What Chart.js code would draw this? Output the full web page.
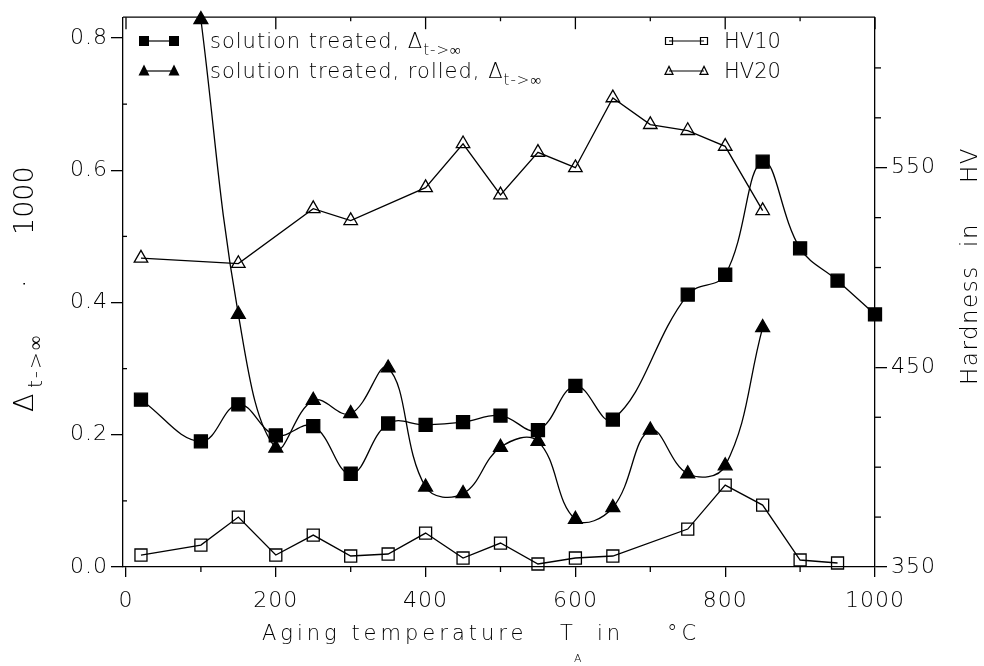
<!DOCTYPE html>
<html>
<head>
<meta charset="utf-8">
<script src="https://cdn.jsdelivr.net/npm/chart.js@4/dist/chart.umd.min.js"></script>
<style>
  html, body { margin: 0; padding: 0; background: #fff; }
  #wrap { width: 984px; height: 666px; position: relative; }
</style>
</head>
<body>
<div id="wrap"><canvas id="chart"></canvas></div>
<script>
// aging temperature (°C) for each series
const tempSolution = [20, 100, 150, 200, 250, 300, 350, 400, 450, 500, 550, 600, 650, 750, 800, 850, 900, 950, 1000];
const deltaSolution = [0.253, 0.19, 0.246, 0.199, 0.213, 0.141, 0.217, 0.215, 0.219, 0.229, 0.207, 0.274, 0.223, 0.412, 0.442, 0.613, 0.482, 0.433, 0.382];

const tempRolled = [100, 150, 200, 250, 300, 350, 400, 450, 500, 550, 600, 650, 700, 750, 800, 850];
const deltaRolled = [0.828, 0.382, 0.18, 0.252, 0.232, 0.301, 0.121, 0.111, 0.181, 0.19, 0.072, 0.09, 0.207, 0.141, 0.153, 0.362];

const tempHV10 = [20, 100, 150, 200, 250, 300, 350, 400, 450, 500, 550, 600, 650, 750, 800, 850, 900, 950];
const hv10 = [356, 361, 375, 356, 366, 355.5, 356.5, 367, 354.5, 362, 351.5, 354.5, 355.5, 369, 391, 381, 353.5, 352];

const tempHV20 = [20, 150, 250, 300, 400, 450, 500, 550, 600, 650, 700, 750, 800, 850];
const hv20 = [504.7, 502, 529.5, 523.5, 540, 562, 536.4, 557.7, 550, 585, 571.6, 568.6, 560.7, 528.5];

// tick values
const xTicks = [0, 100, 200, 300, 400, 500, 600, 700, 800, 900, 1000];
const deltaTicks = [0, 0.1, 0.2, 0.3, 0.4, 0.5, 0.6, 0.7, 0.8];
const hvTicks = [350, 375, 400, 425, 450, 475, 500, 525, 550, 575, 600];

const FONT = 'DejaVu Sans';
const pts = (xs, ys) => xs.map((x, i) => ({ x: x, y: ys[i] }));

const isMajorX = v => v % 200 === 0;
const isMajorDelta = v => Math.round(v * 10) % 2 === 0;
const isMajorHV = v => (v - 350) % 100 === 0;

function marker(ctx, style, x, y, s, filled) {
  ctx.beginPath();
  if (style === 'rect') {
    ctx.rect(x - s / 2, y - s / 2, s, s);
  } else {
    ctx.moveTo(x, y - s * 0.58);
    ctx.lineTo(x + s / 2, y + s * 0.42);
    ctx.lineTo(x - s / 2, y + s * 0.42);
    ctx.closePath();
  }
  if (filled) ctx.fill(); else ctx.stroke();
}

function legendRow(ctx, style, filled, x1, x2, y, s) {
  ctx.beginPath();
  ctx.moveTo(x1, y); ctx.lineTo(x2, y); ctx.stroke();
  marker(ctx, style, x1, y, s, filled);
  marker(ctx, style, x2, y, s, filled);
}

const overlay = {
  id: 'overlay',
  beforeDraw(chart) {
    chart.ctx.letterSpacing = '1px';
  },
  afterDraw(chart) {
    const { ctx, chartArea: a, scales } = chart;
    ctx.save();
    ctx.letterSpacing = '0px';
    ctx.strokeStyle = '#000';
    ctx.fillStyle = '#000';
    ctx.lineWidth = 1.3;

    // top frame line
    ctx.beginPath();
    ctx.moveTo(a.left, a.top); ctx.lineTo(a.right, a.top);
    ctx.stroke();

    // top ticks and bottom minor ticks
    xTicks.forEach(v => {
      const px = scales.x.getPixelForValue(v);
      ctx.beginPath();
      ctx.moveTo(px, a.top); ctx.lineTo(px, a.top + (isMajorX(v) ? 12 : 4));
      if (!isMajorX(v)) { ctx.moveTo(px, a.bottom); ctx.lineTo(px, a.bottom + 5); }
      ctx.stroke();
    });
    deltaTicks.filter(v => !isMajorDelta(v)).forEach(v => {
      const py = scales.y.getPixelForValue(v);
      ctx.beginPath(); ctx.moveTo(a.left, py); ctx.lineTo(a.left + 4, py); ctx.stroke();
    });
    hvTicks.filter(v => !isMajorHV(v)).forEach(v => {
      const py = scales.y2.getPixelForValue(v);
      ctx.beginPath(); ctx.moveTo(a.right, py); ctx.lineTo(a.right + 6, py); ctx.stroke();
    });

    // legends
    ctx.lineWidth = 1.2;
    legendRow(ctx, 'rect', true, 144, 174, 41, 10);
    legendRow(ctx, 'tri', true, 144, 174, 71, 11);
    legendRow(ctx, 'rect', false, 669, 704, 41, 7);
    legendRow(ctx, 'tri', false, 669, 704, 71, 8);

    ctx.textBaseline = 'alphabetic';
    ctx.letterSpacing = '1px';
    const rows = [['solution treated, Δ', 48], ['solution treated, rolled, Δ', 78]];
    rows.forEach(([txt, y]) => {
      ctx.font = '200 21px "' + FONT + '"';
      ctx.fillText(txt, 210, y);
      const w = ctx.measureText(txt).width;
      ctx.font = '200 15px "' + FONT + '"';
      ctx.fillText('t->∞', 210 + w, y + 7);
    });
    ctx.font = '200 21px "' + FONT + '"';
    ctx.letterSpacing = '0px';
    ctx.fillText('HV10', 724, 48);
    ctx.fillText('HV20', 724, 78);

    // x axis title
    ctx.font = '200 21px "' + FONT + '"';
    ctx.letterSpacing = '4px';
    ctx.fillText('Aging temperature', 262, 640);
    ctx.fillText('T', 560, 640);
    ctx.fillText('in', 597, 640);
    ctx.fillText('°C', 667, 640);
    ctx.letterSpacing = '0px';
    ctx.font = '200 11px "' + FONT + '"';
    ctx.fillText('A', 574, 662);

    // left axis title (rotated)
    ctx.save();
    ctx.translate(33, 412);
    ctx.rotate(-Math.PI / 2);
    ctx.font = '200 27px "' + FONT + '"';
    ctx.fillText('Δ', 0, 0);
    ctx.fillText('·', 124, 0);
    ctx.fillText('1000', 177, 0);
    ctx.font = '200 20px "' + FONT + '"';
    ctx.letterSpacing = '2px';
    ctx.fillText('t->∞', 24, 9);
    ctx.restore();

    // right axis title (rotated)
    ctx.save();
    ctx.translate(977, 385);
    ctx.rotate(-Math.PI / 2);
    ctx.font = '200 23px "' + FONT + '"';
    ctx.letterSpacing = '1.5px';
    ctx.fillText('Hardness', 0, 0);
    ctx.fillText('in', 138, 0);
    ctx.fillText('HV', 202, 0);
    ctx.restore();

    ctx.restore();
    ctx.letterSpacing = '0px';
  }
};

Chart.defaults.font.family = FONT;
Chart.defaults.font.size = 22;
Chart.defaults.font.weight = '200';
Chart.defaults.color = '#000';

const lineBase = {
  borderColor: '#000',
  pointBorderColor: '#000',
  borderWidth: 1.3,
  pointBorderWidth: 1.3,
  clip: false
};

new Chart(document.getElementById('chart'), {
  type: 'line',
  data: {
    datasets: [
      Object.assign({}, lineBase, {
        label: 'solution treated',
        data: pts(tempSolution, deltaSolution),
        yAxisID: 'y',
        pointStyle: 'rect',
        pointRadius: 9.2,
        backgroundColor: '#000',
        pointBackgroundColor: '#000',
        tension: 0.4
      }),
      Object.assign({}, lineBase, {
        label: 'solution treated, rolled',
        data: pts(tempRolled, deltaRolled),
        yAxisID: 'y',
        pointStyle: 'triangle',
        pointRadius: 8,
        backgroundColor: '#000',
        pointBackgroundColor: '#000',
        tension: 0.4
      }),
      Object.assign({}, lineBase, {
        label: 'HV10',
        data: pts(tempHV10, hv10),
        yAxisID: 'y2',
        pointStyle: 'rect',
        pointRadius: 8.5,
        backgroundColor: 'rgba(0,0,0,0)',
        pointBackgroundColor: 'rgba(0,0,0,0)',
        tension: 0
      }),
      Object.assign({}, lineBase, {
        label: 'HV20',
        data: pts(tempHV20, hv20),
        yAxisID: 'y2',
        pointStyle: 'triangle',
        pointRadius: 7.8,
        backgroundColor: 'rgba(0,0,0,0)',
        pointBackgroundColor: 'rgba(0,0,0,0)',
        tension: 0
      })
    ]
  },
  options: {
    responsive: true,
    maintainAspectRatio: false,
    animation: false,
    events: [],
    layout: { padding: { top: 12, left: 0, right: 0, bottom: 0 } },
    plugins: { legend: { display: false }, tooltip: { enabled: false } },
    scales: {
      x: {
        type: 'linear',
        position: 'bottom',
        min: -4,
        max: 1000,
        afterBuildTicks: s => { s.ticks = xTicks.map(v => ({ value: v })); },
        afterFit: s => { s.height = 99; },
        ticks: {
          padding: 11,
          maxRotation: 0,
          autoSkip: false,
          callback: v => (isMajorX(v) ? String(v) : '')
        },
        grid: {
          drawOnChartArea: false,
          tickLength: 10,
          lineWidth: 1.3,
          tickColor: c => (c.tick && isMajorX(c.tick.value) ? '#000' : 'rgba(0,0,0,0)')
        },
        border: { color: '#000', width: 1.3 }
      },
      y: {
        type: 'linear',
        position: 'left',
        min: 0,
        max: 0.8315,
        afterBuildTicks: s => { s.ticks = deltaTicks.map(v => ({ value: v })); },
        afterFit: s => { s.width = 123; },
        ticks: {
          padding: 3,
          autoSkip: false,
          callback: v => (isMajorDelta(v) ? v.toFixed(1) : '')
        },
        grid: {
          drawOnChartArea: false,
          tickLength: 12,
          lineWidth: 1.3,
          tickColor: c => (c.tick && isMajorDelta(c.tick.value) ? '#000' : 'rgba(0,0,0,0)')
        },
        border: { color: '#000', width: 1.3 }
      },
      y2: {
        type: 'linear',
        position: 'right',
        min: 350,
        max: 625.4,
        afterBuildTicks: s => { s.ticks = hvTicks.map(v => ({ value: v })); },
        afterFit: s => { s.width = 109; },
        ticks: {
          padding: 4,
          autoSkip: false,
          callback: v => (isMajorHV(v) ? String(v) : '')
        },
        grid: {
          drawOnChartArea: false,
          tickLength: 12,
          lineWidth: 1.3,
          tickColor: c => (c.tick && isMajorHV(c.tick.value) ? '#000' : 'rgba(0,0,0,0)')
        },
        border: { color: '#000', width: 1.3 }
      }
    }
  },
  plugins: [overlay]
});
</script>
</body>
</html>
